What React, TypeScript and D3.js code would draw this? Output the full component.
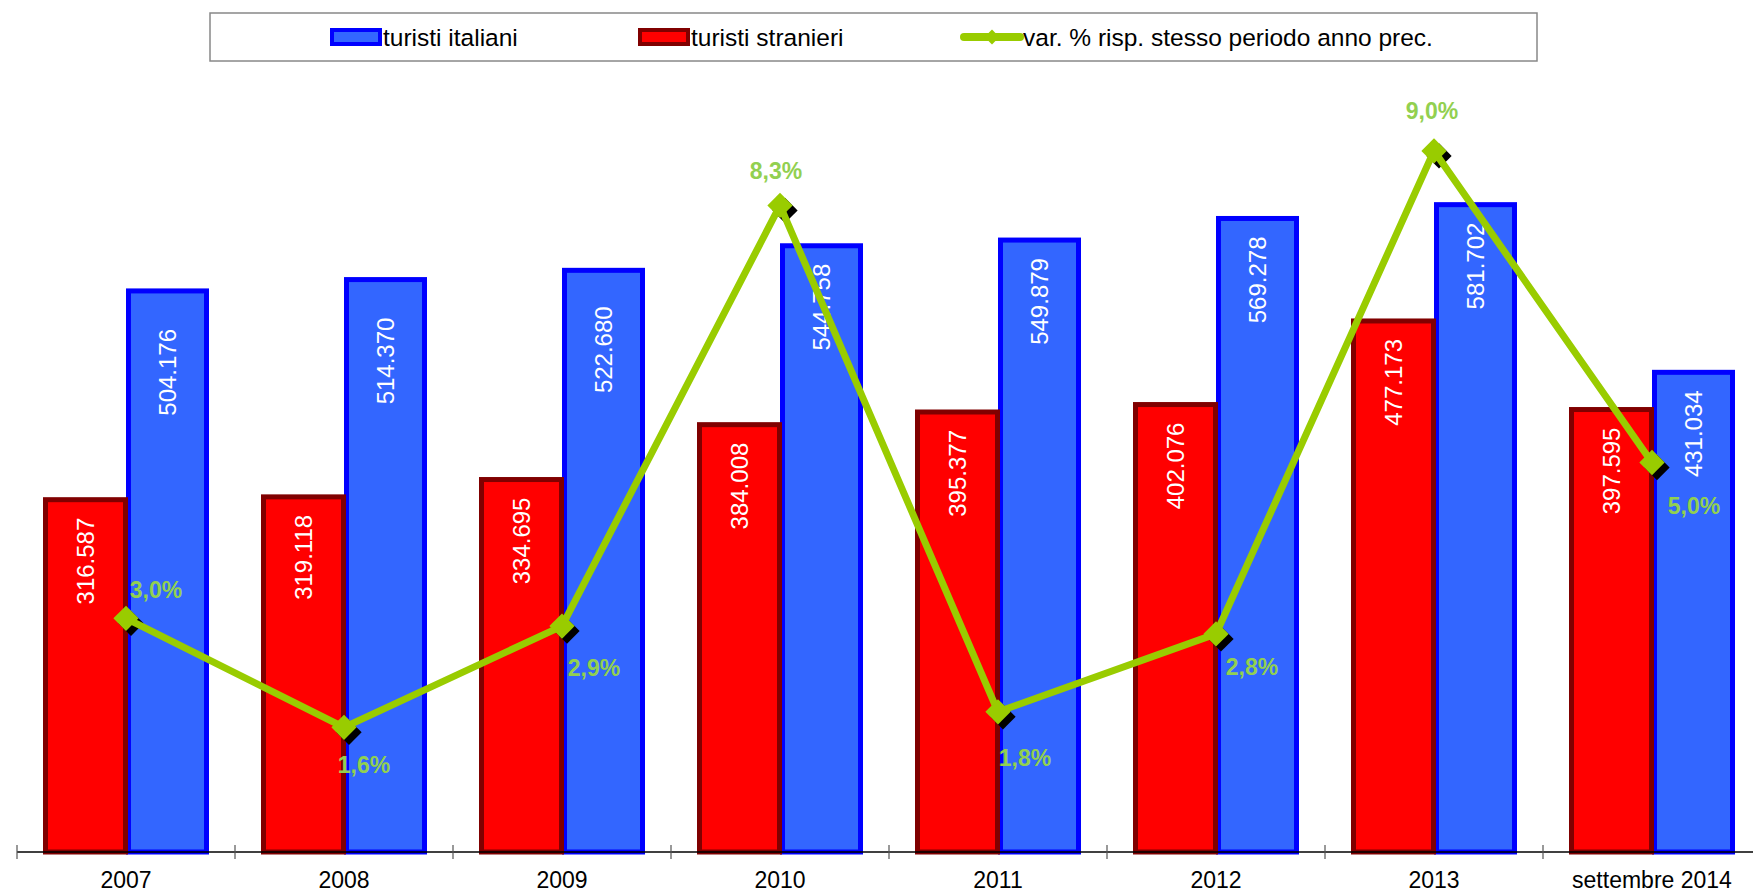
import React, { useEffect, useRef } from 'react';
import * as d3 from 'd3';

const categories = ['2007', '2008', '2009', '2010', '2011', '2012', '2013', 'settembre 2014'];
const italiani = [504176, 514370, 522680, 544758, 549879, 569278, 581702, 431034];
const stranieri = [316587, 319118, 334695, 384008, 395377, 402076, 477173, 397595];
const variazione = [3.0, 1.6, 2.9, 8.3, 1.8, 2.8, 9.0, 5.0];
const legendLabels = ['turisti italiani', 'turisti stranieri', 'var. % risp. stesso periodo anno prec.'];

// hand placed percentage labels (offset from marker, px)
const pctLabelOffset: [number, number][] = [
  [30, -28], [20, 38], [32, 42], [-4, -34], [27, 46], [36, 33], [-2, -40], [42, 43],
];
// the first three blue labels sit lower in the original
const itLabelNudge = [20, 20, 18, 0, 0, 0, 0, 0];

const FONT = 'Liberation Sans, Arial, sans-serif';
const fmtNum = (v: number) => d3.format(',')(v).replace(/,/g, '.');
const fmtPct = (v: number) => v.toFixed(1).replace('.', ',') + '%';

export default function App() {
  const svgRef = useRef<SVGSVGElement>(null);

  useEffect(() => {
    if (!svgRef.current) return;
    const W = 1753;
    const H = 893;
    const baseY = 852;
    const topY = 73;
    const left = 17;
    const band = 218;

    const svg = d3.select(svgRef.current).attr('width', W).attr('height', H);
    svg.selectAll('*').remove();
    svg.append('rect').attr('width', W).attr('height', H).attr('fill', '#fff');

    const x = d3.scaleBand<string>().domain(categories).range([left, left + band * categories.length]);
    const y = d3.scaleLinear().domain([0, 700000]).range([baseY, topY]);
    const y2 = d3.scaleLinear().domain([0, 10]).range([baseY, topY]);

    // blue bars first, red overlaps their left border
    const g = svg.append('g');
    g.selectAll('.it')
      .data(italiani)
      .enter()
      .append('rect')
      .attr('x', (_, i) => x(categories[i])! + 111.5)
      .attr('width', 78)
      .attr('y', (d) => y(d))
      .attr('height', (d) => baseY - y(d))
      .attr('fill', '#3366FF')
      .attr('stroke', '#0000FF')
      .attr('stroke-width', 5);

    g.selectAll('.st')
      .data(stranieri)
      .enter()
      .append('rect')
      .attr('x', (_, i) => x(categories[i])! + 28.5)
      .attr('width', 80)
      .attr('y', (d) => y(d))
      .attr('height', (d) => baseY - y(d))
      .attr('fill', '#FF0000')
      .attr('stroke', '#800000')
      .attr('stroke-width', 5);

    // value labels in bars
    const barLabel = (vals: number[], off: number, nudge: number[]) =>
      g.selectAll(null)
        .data(vals)
        .enter()
        .append('text')
        .attr('transform', (d, i) => `translate(${x(categories[i])! + off},${y(d) + 18 + nudge[i]}) rotate(-90)`)
        .attr('text-anchor', 'end')
        .attr('dy', '0.35em')
        .attr('fill', '#fff')
        .attr('font-family', FONT)
        .attr('font-size', 24)
        .text((d) => fmtNum(d));
    barLabel(stranieri, 68.5, stranieri.map(() => 0));
    barLabel(italiani, 150.5, itLabelNudge);

    // axis
    const ax = svg.append('g');
    ax.append('line')
      .attr('x1', left).attr('x2', W)
      .attr('y1', baseY).attr('y2', baseY)
      .attr('stroke', '#000').attr('stroke-width', 1.5);
    ax.selectAll('.tick')
      .data(categories)
      .enter()
      .append('line')
      .attr('x1', (c) => x(c)!).attr('x2', (c) => x(c)!)
      .attr('y1', baseY - 7).attr('y2', baseY + 7)
      .attr('stroke', '#555').attr('stroke-width', 1.2);
    ax.selectAll('.lab')
      .data(categories)
      .enter()
      .append('text')
      .attr('x', (c) => x(c)! + band / 2)
      .attr('y', 888)
      .attr('text-anchor', 'middle')
      .attr('font-family', FONT)
      .attr('font-size', 23)
      .attr('fill', '#000')
      .text((c) => c);

    // line series
    const px = (i: number) => x(categories[i])! + 109;
    const pts = variazione.map((v, i) => [px(i), y2(v)] as [number, number]);
    const line = d3.line();
    const diamond = d3.symbol().type(d3.symbolSquare).size(320);

    svg.append('g')
      .selectAll('path')
      .data(pts)
      .enter()
      .append('path')
      .attr('d', diamond()!)
      .attr('transform', (p) => `translate(${p[0] + 5},${p[1] + 5}) rotate(45)`)
      .attr('fill', '#000');

    svg.append('path')
      .attr('d', line(pts)!)
      .attr('fill', 'none')
      .attr('stroke', '#99CC00')
      .attr('stroke-width', 7)
      .attr('stroke-linejoin', 'miter');

    svg.append('g')
      .selectAll('path')
      .data(pts)
      .enter()
      .append('path')
      .attr('d', diamond()!)
      .attr('transform', (p) => `translate(${p[0]},${p[1]}) rotate(45)`)
      .attr('fill', '#99CC00');

    svg.append('g')
      .selectAll('text')
      .data(variazione)
      .enter()
      .append('text')
      .attr('x', (_, i) => pts[i][0] + pctLabelOffset[i][0])
      .attr('y', (_, i) => pts[i][1] + pctLabelOffset[i][1])
      .attr('dy', '0.35em')
      .attr('text-anchor', 'middle')
      .attr('font-family', FONT)
      .attr('font-size', 23)
      .attr('font-weight', 'bold')
      .attr('fill', '#92D050')
      .text((d) => fmtPct(d));

    // legend
    const lg = svg.append('g');
    lg.append('rect')
      .attr('x', 210).attr('y', 13).attr('width', 1327).attr('height', 48)
      .attr('fill', '#fff').attr('stroke', '#888').attr('stroke-width', 1.5);
    const items = [
      { x: 330, kind: 'bar', fill: '#3366FF', stroke: '#0000FF' },
      { x: 638, kind: 'bar', fill: '#FF0000', stroke: '#800000' },
      { x: 964, kind: 'line', fill: '#99CC00', stroke: '#99CC00' },
    ];
    items.forEach((it, i) => {
      if (it.kind === 'bar') {
        lg.append('rect')
          .attr('x', it.x + 2).attr('y', 30).attr('width', 48).attr('height', 14)
          .attr('fill', it.fill).attr('stroke', it.stroke).attr('stroke-width', 4);
        lg.append('text')
          .attr('x', it.x + 53).attr('y', 37).attr('dy', '0.35em')
          .attr('font-family', FONT).attr('font-size', 24.5).attr('fill', '#000')
          .text(legendLabels[i]);
      } else {
        lg.append('line')
          .attr('x1', it.x).attr('x2', it.x + 56).attr('y1', 37).attr('y2', 37)
          .attr('stroke', it.stroke).attr('stroke-width', 8).attr('stroke-linecap', 'round');
        lg.append('path')
          .attr('d', d3.symbol().type(d3.symbolSquare).size(110)()!)
          .attr('transform', `translate(${it.x + 28},37) rotate(45)`)
          .attr('fill', it.fill);
        lg.append('text')
          .attr('x', it.x + 59).attr('y', 37).attr('dy', '0.35em')
          .attr('font-family', FONT).attr('font-size', 24.5).attr('fill', '#000')
          .text(legendLabels[i]);
      }
    });
  }, []);

  return (
    <div style={{ position: 'absolute', left: 0, top: 0 }}>
      <svg ref={svgRef} style={{ display: 'block' }}></svg>
    </div>
  );
}
